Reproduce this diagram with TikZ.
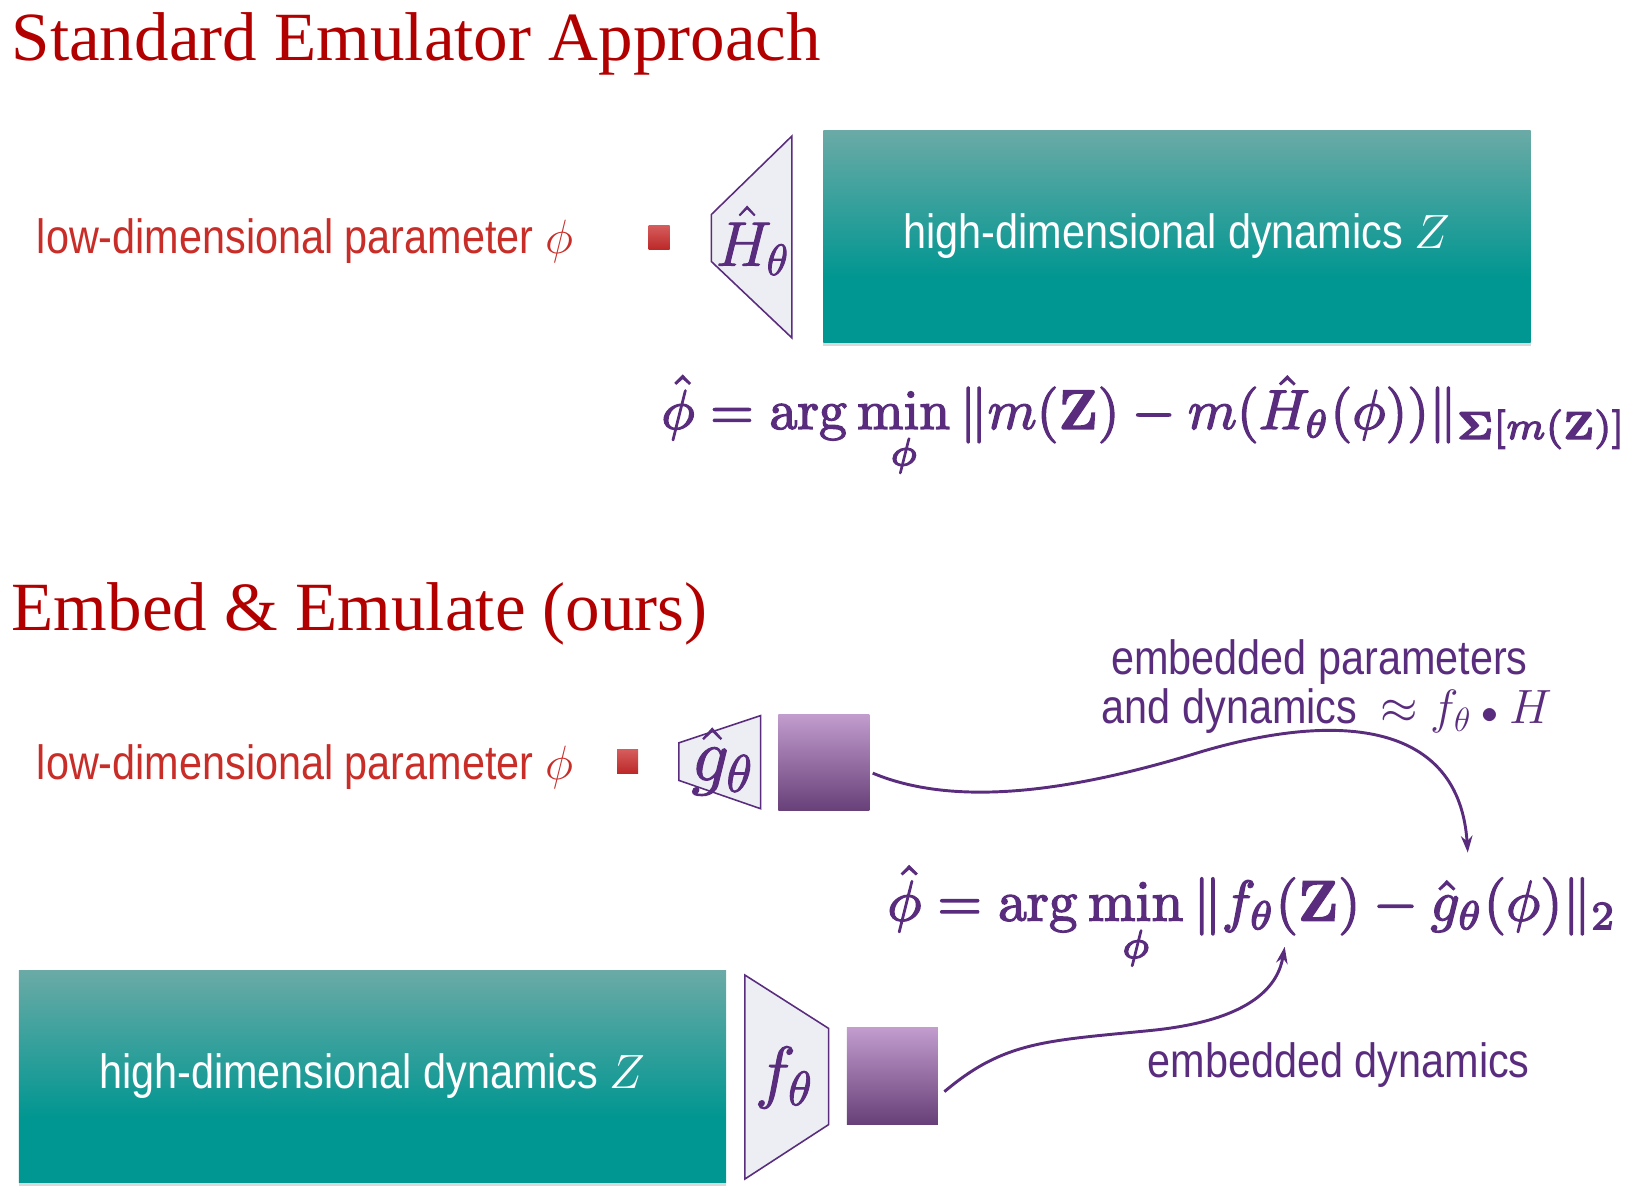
\RequirePackage{fix-cm}
\documentclass[tikz,border=0pt]{standalone}
\usepackage{amsmath}
\usepackage{graphicx}
\usepackage[no-math]{fontspec}
\usetikzlibrary{shadows,arrows.meta,calc}
\newfontfamily\sfc[FakeStretch=0.86]{Liberation Sans}
\newfontfamily\ttl{Liberation Serif}
\newcommand{\heavytext}[2]{\special{pdf:literal direct 2 Tr #1 w}#2\special{pdf:literal direct 0 Tr 0.4 w}}
\definecolor{titlered}{RGB}{178,0,0}
\definecolor{lblred}{RGB}{200,45,40}
\definecolor{eqpurple}{RGB}{90,44,126}
\definecolor{tealtop}{RGB}{106,170,166}
\definecolor{tealbot}{RGB}{0,150,145}
\definecolor{pbtop}{RGB}{193,156,205}
\definecolor{pbbot}{RGB}{104,64,121}
\definecolor{sqtop}{RGB}{214,92,92}
\definecolor{sqbot}{RGB}{188,40,40}
\definecolor{trapfill}{RGB}{236,238,243}
\pgfdeclareverticalshading{tealsh}{100bp}{color(0bp)=(tealbot); color(40bp)=(tealbot); color(75bp)=(tealtop); color(100bp)=(tealtop)}
\tikzset{
 titletext/.style={anchor=base west, inner sep=0pt, text=titlered, font=\ttl\fontsize{66}{70}\selectfont},
 lbl/.style={anchor=base west, inner sep=0pt, text=lblred, font=\sfc\fontsize{46}{50}\selectfont},
 ptext/.style={anchor=base west, inner sep=0pt, text=eqpurple, font=\sfc\fontsize{46}{50}\selectfont},
 tealbox/.style={shade, shading=tealsh, minimum width=676pt, minimum height=202pt, inner sep=0pt, text=white, font=\sfc\fontsize{46}{50}\selectfont, drop shadow={opacity=0.3, shadow xshift=0pt, shadow yshift=-4pt}},
 pbox/.style={top color=pbtop, bottom color=pbbot, minimum width=87pt, minimum height=92pt, inner sep=0pt},
 rsq/.style={top color=sqtop, bottom color=sqbot, minimum width=20pt, minimum height=23pt, inner sep=0pt},
 trap/.style={fill=trapfill, draw=eqpurple, line width=1.5pt, line join=miter},
 eq/.style={anchor=base west, inner sep=0pt, text=eqpurple},
 trlabel/.style={inner sep=0pt, text=eqpurple},
 link/.style={draw=eqpurple, line width=2.8pt, -{Stealth[length=16pt, width=11pt]}},
}
\begin{document}
\begin{tikzpicture}[x=1pt,y=-1pt]
\useasboundingbox (0,0) rectangle (1560,1141);
% ---------- Standard Emulator Approach ----------
\node[titletext] (t1) at (11,58) {Standard Emulator Approach};
\node[lbl] (l1) at (35,242) {low-dimensional parameter $\phi$};
\node[rsq] (s1) at (630,227) {};
\coordinate (h1) at (757,130);
\coordinate (h2) at (680,205);
\coordinate (h3) at (680,250);
\coordinate (h4) at (757,323);
\draw[trap] (h1) -- (h2) -- (h3) -- (h4) -- cycle;
\node[trlabel, font=\fontsize{60}{64}\selectfont] (hl) at (719,230) {\heavytext{0.9}{$\hat H_\theta$}};
\node[tealbox] (z1) at (1125,226) {high-dimensional dynamics $Z$};
\node[eq] (e1) at (632,410) {\resizebox{923pt}{!}{\heavytext{0.24}{$\displaystyle \hat\phi = \arg\min_\phi \|m(\mathbf{Z}) - m(\hat H_\theta(\phi))\|_{\mathbf{\Sigma}[m(\mathbf{Z})]}$}}};
% ---------- Embed & Emulate ----------
\node[titletext] (t2) at (11,603) {Embed \& Emulate (ours)};
\node[lbl] (l2) at (35,745) {low-dimensional parameter $\phi$};
\node[rsq] (s2) at (600,728) {};
\coordinate (g1) at (727,684);
\coordinate (g2) at (649,710);
\coordinate (g3) at (649,746);
\coordinate (g4) at (727,773);
\draw[trap] (g1) -- (g2) -- (g3) -- (g4) -- cycle;
\node[trlabel, font=\fontsize{72}{76}\selectfont] (gl) at (690,728) {\heavytext{1}{$\hat g_\theta$}};
\node[pbox] (p1) at (787.5,729) {};
\node[ptext] (ep) at (1062,645) {embedded parameters};
\node[ptext] (ed) at (1053,692) {and dynamics\ \ $\approx f_\theta\mathbin{\scalebox{0.7}{$\bullet$}} H$};
\coordinate (tip1) at (1403,815);
\draw[link] ($(p1.east)+(3,10)$) .. controls (920,775) and (1040,752) .. (1150,718) .. controls (1280,680) and (1395,690) .. (tip1);
\node[eq] (e2) at (848,880) {\resizebox{697pt}{!}{\heavytext{0.24}{$\displaystyle \hat\phi = \arg\min_\phi \|f_\theta(\mathbf{Z}) - \hat g_\theta(\phi)\|_2$}}};
\node[tealbox] (z2) at (356,1029) {high-dimensional dynamics $Z$};
\coordinate (f1) at (712,932);
\coordinate (f2) at (792,983);
\coordinate (f3) at (792,1075);
\coordinate (f4) at (712,1127);
\draw[trap] (f1) -- (f2) -- (f3) -- (f4) -- cycle;
\node[trlabel, font=\fontsize{66}{70}\selectfont] (fl) at (749,1030) {\heavytext{1}{$f_\theta$}};
\node[pbox] (p2) at (853,1028.5) {};
\node[ptext] (edy) at (1097,1030) {embedded dynamics};
\coordinate (tip2) at (1228,905);
\draw[link] ($(p2.east)+(6,15)$) .. controls (960,995) and (1000,995) .. (1100,985) .. controls (1200,975) and (1222,940) .. (tip2);
\end{tikzpicture}
\end{document}
